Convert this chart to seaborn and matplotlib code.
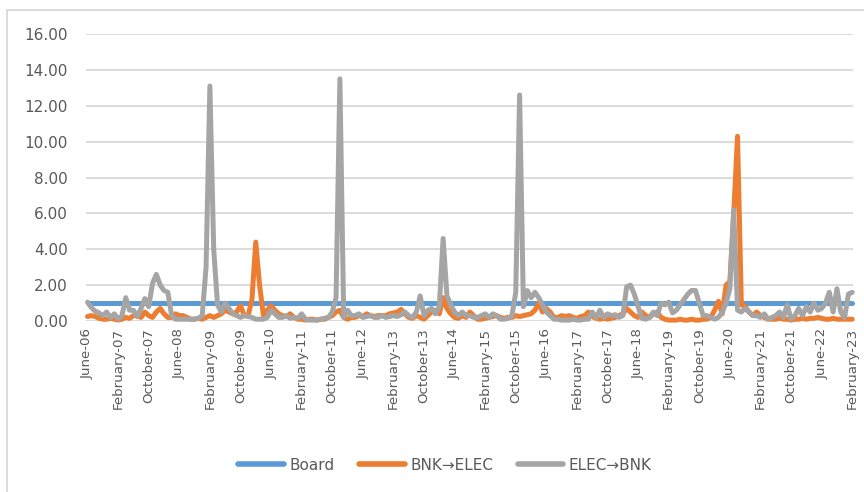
import numpy as np
import pandas as pd
import matplotlib
matplotlib.use("Agg")
import matplotlib.pyplot as plt
from matplotlib.patches import Rectangle
import seaborn as sns

# Monthly observations, June 2006 .. February 2023
months = pd.date_range("2006-06-01", "2023-02-01", freq="MS")
n = len(months)

series_names = ["Board", "BNK\u2192ELEC", "ELEC\u2192BNK"]
series_colors = ["#5B9BD5", "#ED7D31", "#A5A5A5"]

board_level = 1.00
board = [board_level] * n

bnk_elec = [
    0.25, 0.30, 0.25, 0.15, 0.10, 0.10, 0.15, 0.10, 0.05, 0.10,
    0.20, 0.15, 0.30, 0.30, 0.20, 0.50, 0.30, 0.20, 0.50, 0.70,
    0.40, 0.20, 0.20, 0.40, 0.30, 0.30, 0.20, 0.10, 0.10, 0.15,
    0.10, 0.20, 0.30, 0.20, 0.30, 0.40, 0.60, 0.50, 0.40, 0.50,
    0.85, 0.30, 0.30, 1.20, 4.40, 2.00, 0.30, 0.60, 0.85, 0.60,
    0.40, 0.30, 0.25, 0.40, 0.20, 0.10, 0.10, 0.05, 0.10, 0.10,
    0.05, 0.10, 0.10, 0.20, 0.30, 0.50, 0.60, 0.20, 0.10, 0.20,
    0.20, 0.30, 0.25, 0.40, 0.30, 0.25, 0.30, 0.30, 0.30, 0.40,
    0.45, 0.50, 0.65, 0.40, 0.20, 0.15, 0.30, 0.20, 0.10, 0.30,
    0.50, 0.60, 0.40, 1.30, 0.70, 0.40, 0.20, 0.15, 0.30, 0.20,
    0.50, 0.30, 0.10, 0.10, 0.15, 0.20, 0.25, 0.30, 0.20, 0.15,
    0.20, 0.20, 0.30, 0.25, 0.30, 0.35, 0.40, 0.60, 1.00, 0.50,
    0.70, 0.50, 0.20, 0.20, 0.30, 0.25, 0.30, 0.20, 0.15, 0.25,
    0.30, 0.50, 0.25, 0.15, 0.10, 0.15, 0.10, 0.15, 0.20, 0.30,
    0.40, 0.70, 0.50, 0.30, 0.20, 0.50, 0.30, 0.20, 0.40, 0.50,
    0.20, 0.10, 0.05, 0.05, 0.05, 0.10, 0.05, 0.05, 0.10, 0.05,
    0.05, 0.10, 0.10, 0.20, 0.60, 1.10, 0.40, 2.00, 2.20, 6.00,
    10.30, 0.90, 0.80, 0.50, 0.30, 0.50, 0.30, 0.20, 0.10, 0.10,
    0.10, 0.15, 0.10, 0.10, 0.05, 0.10, 0.10, 0.15, 0.10, 0.15,
    0.15, 0.20, 0.15, 0.10, 0.10, 0.15, 0.10, 0.10, 0.10, 0.10,
    0.10,
]

elec_bnk = [
    1.05, 0.75, 0.55, 0.45, 0.30, 0.50, 0.20, 0.40, 0.10, 0.30,
    1.30, 0.60, 0.60, 0.25, 0.70, 1.25, 0.80, 2.10, 2.60, 2.00,
    1.70, 1.60, 0.30, 0.10, 0.10, 0.10, 0.10, 0.10, 0.10, 0.15,
    0.30, 3.00, 13.10, 4.00, 0.90, 0.50, 1.00, 0.70, 0.40, 0.30,
    0.20, 0.30, 0.25, 0.20, 0.10, 0.10, 0.10, 0.20, 0.60, 0.40,
    0.20, 0.20, 0.30, 0.15, 0.20, 0.15, 0.40, 0.10, 0.05, 0.05,
    0.05, 0.10, 0.15, 0.20, 0.50, 1.30, 13.50, 0.20, 0.60, 0.30,
    0.30, 0.40, 0.20, 0.25, 0.30, 0.20, 0.20, 0.30, 0.20, 0.25,
    0.30, 0.25, 0.35, 0.50, 0.30, 0.20, 0.50, 1.40, 0.30, 0.60,
    0.70, 0.40, 0.80, 4.60, 1.40, 0.90, 0.50, 0.30, 0.50, 0.30,
    0.30, 0.20, 0.20, 0.30, 0.40, 0.20, 0.40, 0.30, 0.10, 0.10,
    0.15, 0.30, 1.60, 12.60, 0.80, 1.70, 1.30, 1.60, 1.30, 0.90,
    0.50, 0.30, 0.10, 0.10, 0.05, 0.05, 0.05, 0.10, 0.05, 0.05,
    0.10, 0.10, 0.50, 0.20, 0.60, 0.20, 0.40, 0.30, 0.35, 0.20,
    0.30, 1.90, 2.00, 1.50, 0.80, 0.15, 0.10, 0.20, 0.50, 0.30,
    1.00, 0.90, 1.05, 0.45, 0.60, 0.90, 1.20, 1.50, 1.70, 1.70,
    1.00, 0.30, 0.30, 0.20, 0.10, 0.20, 0.50, 1.00, 1.80, 6.20,
    0.60, 0.50, 0.70, 0.50, 0.30, 0.30, 0.20, 0.40, 0.10, 0.20,
    0.30, 0.50, 0.20, 0.90, 0.10, 0.30, 0.70, 0.30, 0.80, 0.50,
    1.00, 0.60, 0.70, 1.00, 1.60, 0.50, 1.80, 0.50, 0.20, 1.50,
    1.60,
]

y_ticks = [0, 2, 4, 6, 8, 10, 12, 14, 16]
label_step = 8

df = pd.DataFrame({
    "idx": np.tile(np.arange(n), len(series_names)),
    "value": board + bnk_elec + elec_bnk,
    "series": np.repeat(series_names, n),
})

sns.set_style("white")
plt.rcParams["font.family"] = ["DejaVu Sans"]

W, H = 864, 492
fig = plt.figure(figsize=(W / 100, H / 100), dpi=100)
ax = fig.add_axes([86 / W, 1 - 321 / H, (853 - 86) / W, (321 - 34) / H])

sns.lineplot(
    data=df, x="idx", y="value", hue="series", hue_order=series_names,
    palette=series_colors, linewidth=3.6, ax=ax, zorder=3,
)
for line in ax.lines:
    line.set_clip_on(False)
    line.set_solid_joinstyle("round")

ax.set_xlim(-0.4, n - 0.8)
ax.set_ylim(0, 16)
ax.set_yticks(y_ticks)
ax.set_yticklabels([f"{v:.2f}" for v in y_ticks], fontsize=11, color="#595959")

pos = list(range(0, n, label_step))
ax.set_xticks(pos)
ax.set_xticklabels([months[i].strftime("%B-%y") for i in pos],
                   rotation=90, fontsize=9.6, color="#595959")
ax.tick_params(axis="both", length=0)
ax.tick_params(axis="y", pad=13)
ax.tick_params(axis="x", pad=5)
ax.set_xlabel("")
ax.set_ylabel("")

ax.yaxis.grid(True, color="#D9D9D9", linewidth=1.3)
ax.xaxis.grid(False)
ax.set_axisbelow(True)
for s in ax.spines.values():
    s.set_visible(False)

handles, labels = ax.get_legend_handles_labels()
leg = ax.legend(
    handles, labels, loc="center", bbox_to_anchor=(0.515, 1 - 465 / H),
    bbox_transform=fig.transFigure, ncol=3, frameon=False, fontsize=11,
    handlelength=3.0, handletextpad=0.35, columnspacing=1.6,
    labelcolor="#595959",
)
for h in leg.get_lines():
    h.set_linewidth(4)

# chart area frame
fig.add_artist(Rectangle((7 / W, -0.2), 2.0, 1.2 - 10 / H,
                         transform=fig.transFigure, fill=False,
                         edgecolor="#D9D9D9", linewidth=1.3))

fig.savefig("out.png", dpi=100)
